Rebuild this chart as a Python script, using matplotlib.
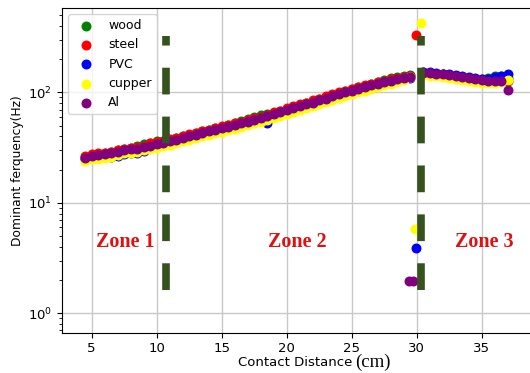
import matplotlib
matplotlib.use("Agg")
import matplotlib.pyplot as plt

# contact distance (cm) of each measurement, zones 1-2 and zone 3
dist_a = [4.5, 5.0, 5.5, 6.0, 6.5, 7.0, 7.5, 8.0, 8.5, 9.0, 9.5, 10.0, 10.5,
          11.0, 11.5, 12.0, 12.5, 13.0, 13.5, 14.0, 14.5, 15.0, 15.5, 16.0,
          16.5, 17.0, 17.5, 18.0, 18.5, 19.0, 19.5, 20.0, 20.5, 21.0, 21.5,
          22.0, 22.5, 23.0, 23.5, 24.0, 24.5, 25.0, 25.5, 26.0, 26.5, 27.0,
          27.5, 28.0, 28.5, 29.0, 29.5]
dist_b = [30.5, 31.0, 31.5, 32.0, 32.5, 33.0, 33.5, 34.0, 34.5, 35.0, 35.5,
          36.0, 36.5, 37.0]

# dominant frequency (Hz) per material
wood = [26.0, 27.0, 27.5, 28.5, 29.0, 30.0, 31.0, 31.5, 33.0, 34.0, 35.0, 36.0,
        36.0, 37.0, 38.5, 40.0, 41.5, 43.0, 44.5, 46.0, 47.5, 49.0, 50.5, 52.5,
        55.0, 57.5, 60.0, 62.0, 63.5, 65.5, 68.0, 71.0, 74.0, 77.0, 80.0, 83.5,
        87.0, 90.5, 94.5, 98.5, 103, 107, 111, 115, 120, 124, 129, 134, 137,
        140, 143,
        151, 150, 148, 147, 145, 142, 139, 136, 133, 131, 134, 142, 140, 135]
steel = [26.5, 27.5, 28.0, 28.5, 29.0, 30.0, 31.0, 31.5, 32.0, 33.0, 34.5, 35.5,
         36.5, 37.5, 39.0, 40.5, 42.0, 43.0, 44.5, 46.0, 47.5, 49.5, 51.0, 52.5,
         54.5, 56.5, 58.5, 60.5, 63.0, 66.0, 68.5, 71.5, 75.0, 78.0, 81.0, 84.5,
         88.0, 92.0, 96.0, 100, 104, 108, 112, 116, 120, 124, 128, 132, 135,
         138, 140,
         152, 150, 148, 146, 144, 141, 138, 135, 132, 129, 127, 128, 128, 128]
pvc = [25.0, 26.0, 26.5, 26.0, 26.0, 26.5, 27.5, 28.0, 28.5, 29.5, 32.0, 33.5,
       34.5, 35.5, 36.5, 38.0, 39.5, 41.0, 42.5, 44.0, 45.5, 47.0, 48.5, 50.0,
       52.0, 54.0, 56.0, 58.0, 53.0, 63.0, 65.5, 68.5, 71.5, 74.5, 77.5, 80.5,
       84.0, 87.5, 91.5, 95.5, 99.5, 103, 107, 111, 115, 119, 123, 127, 130,
       133, 136,
       153, 152, 150, 148, 146, 143, 140, 137, 134, 131, 133, 138, 141, 146]
cupper = [24.0, 25.0, 25.0, 25.5, 26.0, 27.0, 28.0, 28.5, 29.0, 30.0, 30.5,
          31.5, 32.5, 33.5, 34.5, 36.0, 37.0, 38.5, 40.0, 41.5, 43.0, 44.0,
          45.5, 47.0, 49.0, 50.5, 52.5, 54.5, 56.5, 59.0, 61.5, 64.0, 67.0,
          70.0, 72.5, 75.5, 78.5, 82.0, 85.5, 89.5, 93.0, 97.0, 100, 104, 108,
          112, 116, 120, 124, 129, 137,
          143, 141, 140, 138, 135, 132, 130, 127, 125, 122, 121, 122, 125, 130]
al = [25.5, 26.5, 27.0, 27.5, 28.0, 29.0, 30.0, 30.5, 31.0, 32.0, 33.0, 34.0,
      35.0, 36.0, 37.0, 38.5, 40.0, 41.5, 43.0, 44.5, 46.0, 47.5, 49.0, 50.5,
      52.5, 54.5, 56.5, 58.5, 61.0, 63.5, 66.0, 69.0, 72.0, 75.0, 78.0, 81.0,
      84.5, 88.0, 92.0, 96.0, 100, 104, 108, 112, 116, 120, 124, 128, 131,
      134, 137,
      150, 149, 147, 146, 144, 141, 138, 135, 132, 129, 127, 126, 126, 106]

# readings taken right at the zone 2 / zone 3 transition
steel_x, steel_y = [29.95], [333]
cupper_x, cupper_y = [30.35, 29.85], [425, 5.75]
pvc_x, pvc_y = [29.95], [3.9]
al_x, al_y = [29.45, 29.7], [1.96, 1.96]

zone_edges = [10.75, 30.35]
zone_names = ["Zone 1", "Zone 2", "Zone 3"]
zone_pos = [7.6, 20.8, 35.2]

fig = plt.figure(figsize=(5.30, 3.73), dpi=100)
# axes run past the right edge of the canvas
ax = fig.add_axes([0.117, 0.108, 0.9585, 0.871])

dist = dist_a + dist_b
series = [
    ("wood", "green", wood, [], []),
    ("steel", "red", steel, steel_x, steel_y),
    ("PVC", "blue", pvc, pvc_x, pvc_y),
    ("cupper", "yellow", cupper, cupper_x, cupper_y),
    ("Al", "purple", al, al_x, al_y),
]
for name, col, vals, ox, oy in series:
    ax.scatter(dist + ox, vals + oy, s=38, color=col, label=name, zorder=3)

for xe in zone_edges:
    ax.plot([xe, xe], [1.63, 326], color="#36521f", lw=5.5,
            ls=(0, (3.5, 2.9)), zorder=4)

for name, xp in zip(zone_names, zone_pos):
    ax.text(xp, 4.45, name, color="#e01010", fontsize=14.5, fontweight="bold",
            family="Liberation Serif", ha="center", va="center")

ax.set_yscale("log")
ax.set_xlim(2.72, 41.8)
ax.set_ylim(0.667, 583)
ax.set_xticks([5, 10, 15, 20, 25, 30, 35])
ax.tick_params(labelsize=9.5)
ax.grid(True, color="#c8c8c8", lw=1)
ax.set_axisbelow(True)
ax.set_ylabel("Dominant ferquency(Hz)", fontsize=8.8, labelpad=3)

# x label: sans text followed by the unit in a serif face
fig.text(352 / 530, 6.5 / 373, "Contact Distance", fontsize=9.5,
         ha="right", va="baseline")
fig.text(355 / 530, 6.5 / 373, "(cm)", fontsize=13.5,
         family="Liberation Serif", ha="left", va="baseline")

ax.legend(loc="upper left", fontsize=9, scatterpoints=1)

fig.savefig("out.png", dpi=100)
